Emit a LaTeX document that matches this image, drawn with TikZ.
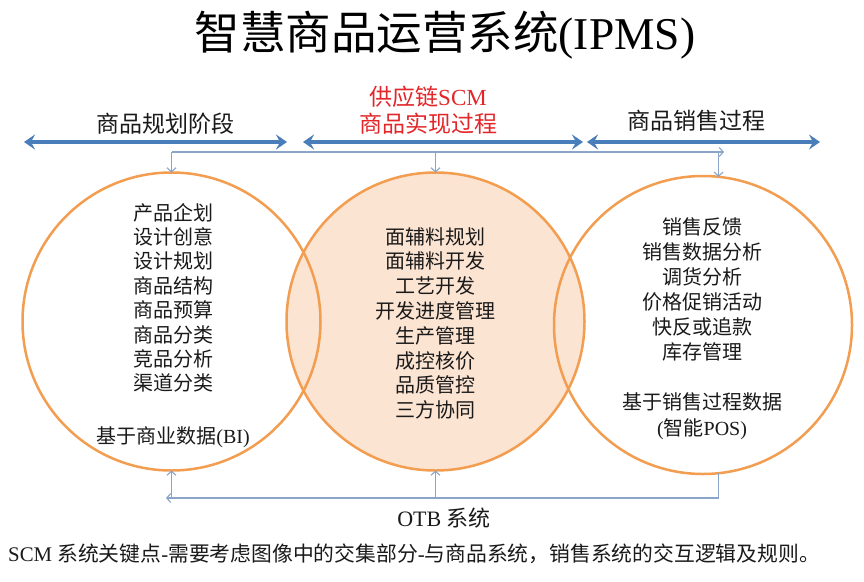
\documentclass[tikz,border=0pt]{standalone}
\usepackage{fontspec}
\setmainfont{Liberation Serif}
\newfontfamily\cjk{Noto Sans CJK SC}
\usetikzlibrary{arrows.meta}
\definecolor{orng}{HTML}{F29D50}
\definecolor{peach}{HTML}{FCE4D3}
\definecolor{blu}{HTML}{4A7EBB}
\definecolor{cblue}{HTML}{8AA5C8}
\definecolor{redt}{HTML}{E3262A}
\definecolor{txtc}{HTML}{1A1A1A}
\begin{document}
\begin{tikzpicture}[x=1pt,y=-1pt,
  venn/.style={circle,draw=orng,line width=2.5pt,minimum size=298pt,inner sep=0pt,outer sep=0pt},
  lbl/.style={font=\cjk\fontsize{20}{24}\selectfont,text=txtc,inner sep=0pt,text height=17pt,text depth=3pt},
  head/.style={font=\cjk\fontsize{23}{27}\selectfont,text=txtc,inner sep=0pt,text height=19.5pt,text depth=3.5pt},
  big/.style={draw=blu,line width=3.5pt,arrows={Stealth[length=11pt,width=15pt,inset=4pt]-Stealth[length=11pt,width=15pt,inset=4pt]}},
  conn/.style={draw=cblue,line width=1.1pt},
  tip/.tip={Straight Barb[length=4pt,width=9pt]}]
\useasboundingbox (0,0) rectangle (864,581);
\fill[white] (0,0) rectangle (864,581);

% title
\node[font=\cjk\fontsize{45.5}{52}\selectfont,text=black,inner sep=0pt,text height=38pt,text depth=7pt] (title) at (445,34) {智慧商品运营系统{\rmfamily(IPMS)}};

% header labels
\node[head] (h1) at (165,124) {商品规划阶段};
\node[head,text=redt] (h2a) at (428,97) {供应链{\rmfamily SCM}};
\node[head,text=redt] (h2b) at (428,124) {商品实现过程};
\node[head] (h3) at (696,121) {商品销售过程};

% big arrows
\coordinate (a1) at (24,142); \coordinate (a2) at (287,142);
\coordinate (b1) at (303,142); \coordinate (b2) at (583,142);
\coordinate (c1) at (587,142); \coordinate (c2) at (820,142);
\draw[big] (a1) -- (a2);
\draw[big] (b1) -- (b2);
\draw[big] (c1) -- (c2);

% circles
\node[venn,fill=peach] (B) at (435.5,321.5) {};
\node[venn] (A) at (171.5,321.5) {};
\node[venn] (C) at (703,325) {};

% top connectors
\coordinate (tl) at (171.5,152);
\coordinate (tr) at (724,152);
\draw[conn,-tip] (tl) -- (tr);
\draw[conn,-tip] (tl) -- (A.north);
\draw[conn,-tip] (B.north |- tl) -- (B.north);
\draw[conn,-tip] (C.84.6 |- tl) -- (C.84.6);

% bottom connectors
\coordinate (bl) at (166,498);
\draw[conn,-tip] (C.-84.8) |- (bl);
\draw[conn,-tip] (A.south |- bl) -- (A.south);
\draw[conn,-tip] (B.south |- bl) -- (B.south);

% left circle text
\node[lbl] (l1) at (173,213) {产品企划};
\node[lbl] (l2) at (173,237.4) {设计创意};
\node[lbl] (l3) at (173,261.8) {设计规划};
\node[lbl] (l4) at (173,286.2) {商品结构};
\node[lbl] (l5) at (173,310.6) {商品预算};
\node[lbl] (l6) at (173,335) {商品分类};
\node[lbl] (l7) at (173,359.4) {竞品分析};
\node[lbl] (l8) at (173,383.8) {渠道分类};
\node[lbl] (l9) at (173,436) {基于商业数据{\rmfamily(BI)}};

% middle circle text
\node[lbl] (m1) at (435,237) {面辅料规划};
\node[lbl] (m2) at (435,261.8) {面辅料开发};
\node[lbl] (m3) at (435,286.6) {工艺开发};
\node[lbl] (m4) at (435,311.4) {开发进度管理};
\node[lbl] (m5) at (435,336.2) {生产管理};
\node[lbl] (m6) at (435,361) {成控核价};
\node[lbl] (m7) at (435,385.8) {品质管控};
\node[lbl] (m8) at (435,410.6) {三方协同};

% right circle text
\node[lbl] (r1) at (702,227) {销售反馈};
\node[lbl] (r2) at (702,252) {销售数据分析};
\node[lbl] (r3) at (702,277) {调货分析};
\node[lbl] (r4) at (702,302) {价格促销活动};
\node[lbl] (r5) at (702,327) {快反或追款};
\node[lbl] (r6) at (702,352) {库存管理};
\node[lbl] (r7) at (702,402) {基于销售过程数据};
\node[lbl] (r8) at (702,428) {{\rmfamily(}智能{\rmfamily POS)}};

% bottom texts
\node[font=\cjk\fontsize{22}{26}\selectfont,text=txtc,inner sep=0pt,text height=18.5pt,text depth=3.5pt] (otb) at (444,519) {{\rmfamily OTB }系统};
\node[font=\cjk\fontsize{20.8}{25}\selectfont,text=txtc,inner sep=0pt,text height=17.5pt,text depth=3.5pt,anchor=west] (note) at (8,554) {{\rmfamily SCM }系统关键点{\rmfamily -}需要考虑图像中的交集部分{\rmfamily -}与商品系统，销售系统的交互逻辑及规则。};
\end{tikzpicture}
\end{document}
